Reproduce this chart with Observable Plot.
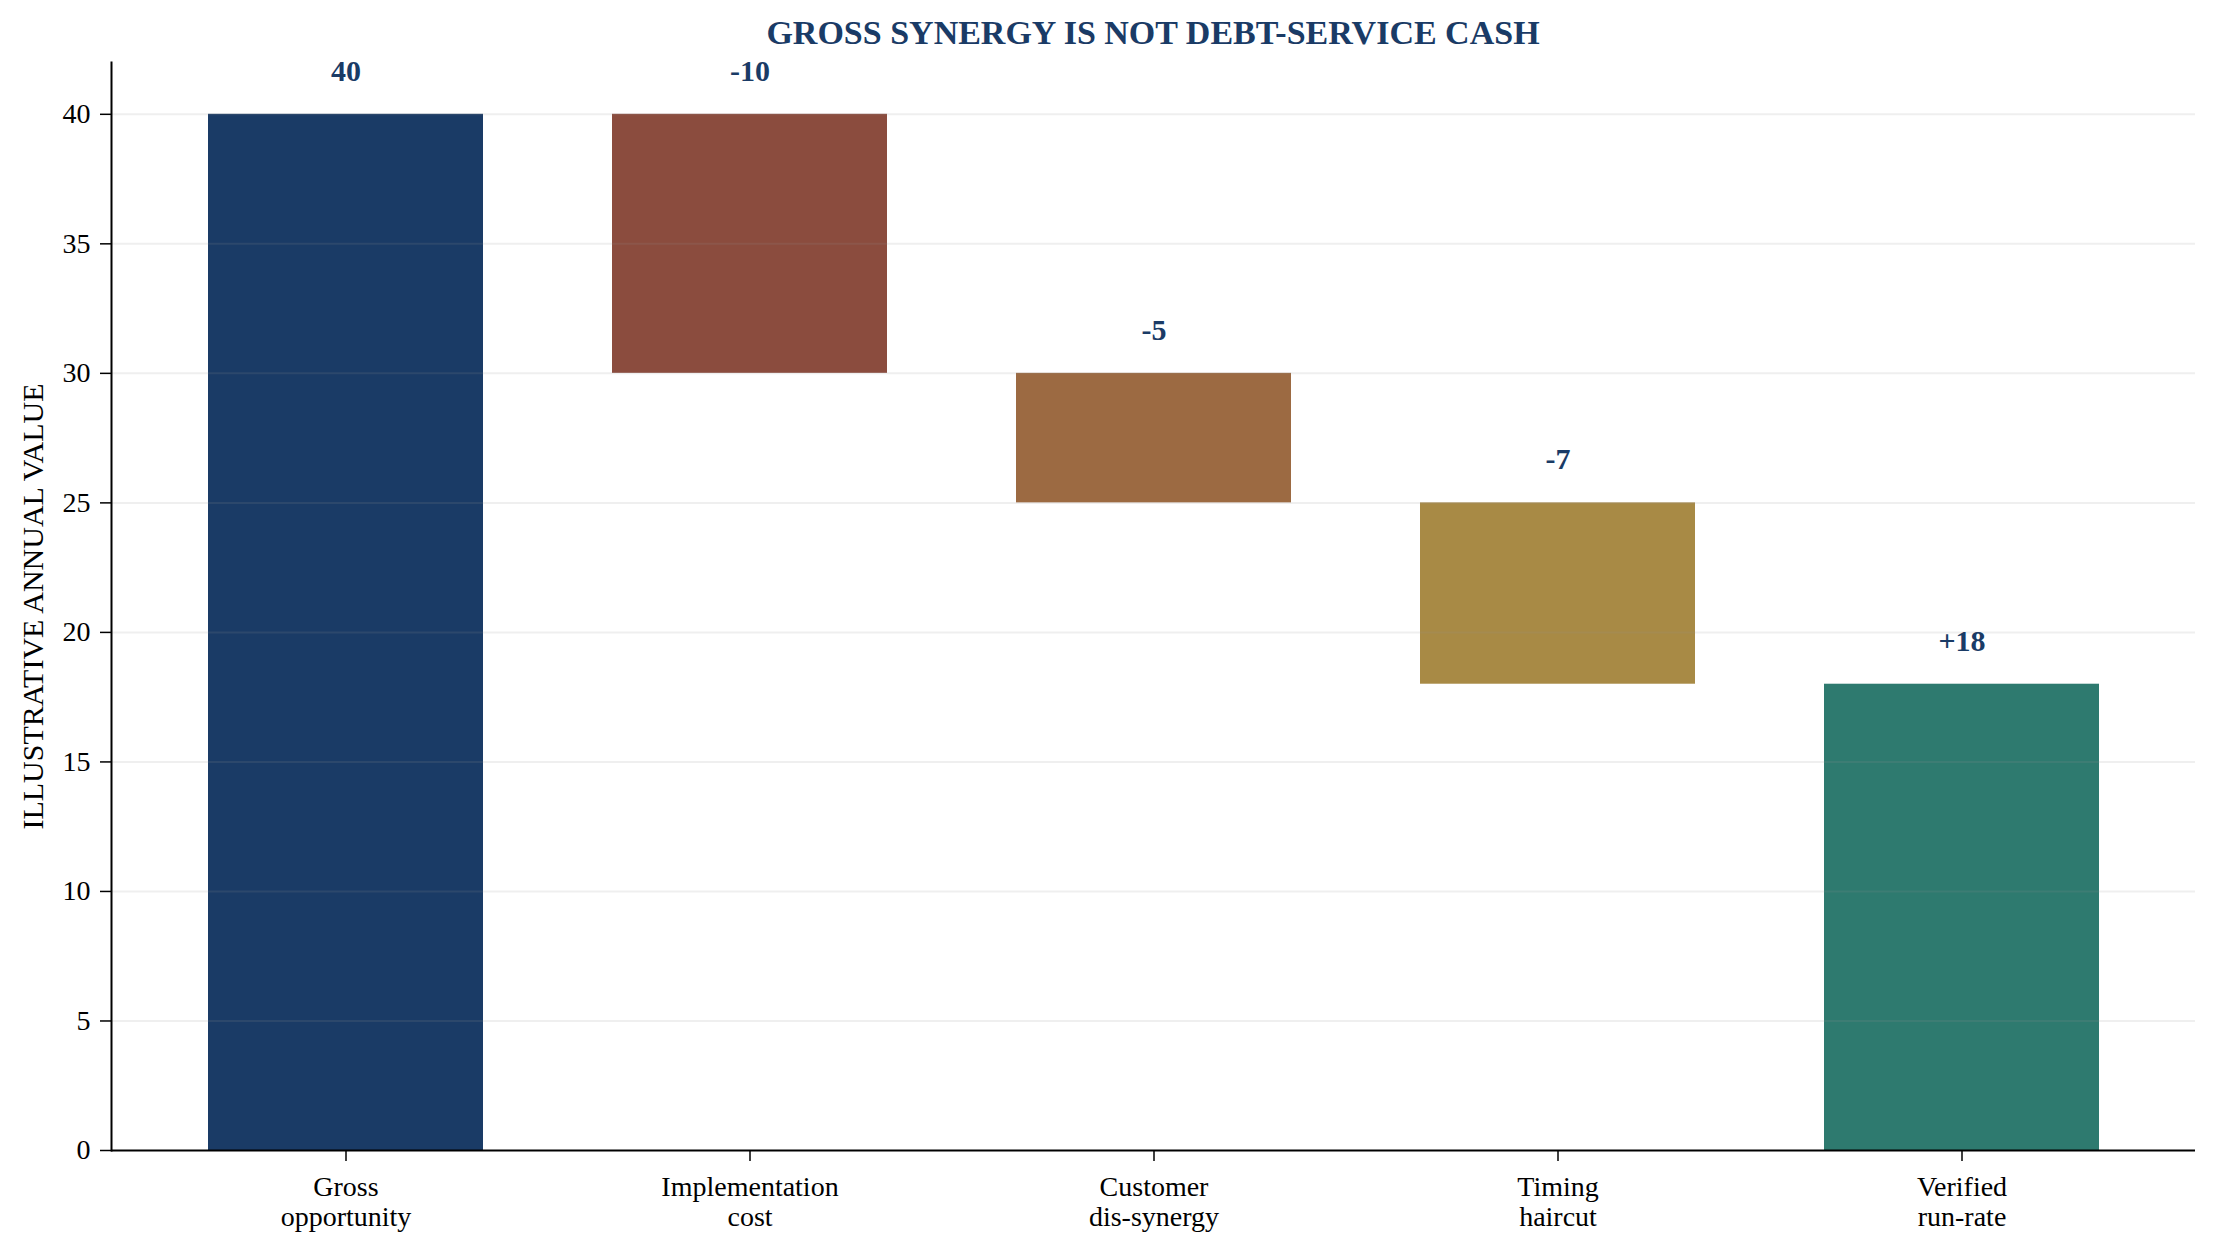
<!DOCTYPE html>
<html>
<head>
<meta charset="utf-8">
<script src="https://cdn.jsdelivr.net/npm/d3@7"></script>
<script src="https://cdn.jsdelivr.net/npm/@observablehq/plot@0.6"></script>
<style>
  html, body { margin: 0; padding: 0; background: #ffffff; }
  #title {
    width: 2218px; height: 56px; box-sizing: border-box;
    padding: 10px 23px 0 111px;
    line-height: 46px; text-align: center;
    font-family: "Liberation Serif", "Times New Roman", serif;
    font-weight: bold; font-size: 34px; color: #1a3b66;
  }
  #chart svg { display: block; overflow: visible; }
</style>
</head>
<body>
<div id="title">GROSS SYNERGY IS NOT DEBT-SERVICE CASH</div>
<div id="chart"></div>
<script>
const categories = ["Gross\nopportunity", "Implementation\ncost", "Customer\ndis-synergy", "Timing\nhaircut", "Verified\nrun-rate"];
const values = [40, -10, -5, -7, 18];
const kinds = ["total", "delta", "delta", "delta", "total"];
const valueLabels = ["40", "-10", "-5", "-7", "+18"];
const colors = ["#1a3b66", "#8b4c3e", "#9c6a42", "#a88a45", "#2e7a6f"];
const yTicks = [0, 5, 10, 15, 20, 25, 30, 35, 40];
const yDomain = [0, 42];
const yLabel = "ILLUSTRATIVE ANNUAL VALUE";

let running = 0;
const rows = categories.map((c, i) => {
  let start, end;
  if (kinds[i] === "total") { start = 0; end = values[i]; running = values[i]; }
  else { start = running; end = running + values[i]; running = end; }
  return { category: c, start, end, top: Math.max(start, end), label: valueLabels[i] };
});

const font = "'Liberation Serif', 'Times New Roman', serif";

const chart = Plot.plot({
  width: 2218,
  height: 1198,
  marginLeft: 111,
  marginRight: 23,
  marginTop: 6,
  marginBottom: 104,
  style: { fontFamily: font, fontSize: "28px", background: "#ffffff", color: "#000" },
  x: { domain: categories, paddingInner: 0.32, paddingOuter: 0.233, axis: null },
  y: { domain: yDomain, axis: null },
  color: { domain: categories, range: colors },
  marks: [
    Plot.barY(rows, { x: "category", y1: "start", y2: "end", fill: "category" }),
    Plot.ruleY(yTicks.filter(d => d > 0), { stroke: "#969696", strokeOpacity: 0.15, strokeWidth: 2 }),
    Plot.text(rows, { x: "category", y: "top", text: "label", dy: -43, fontSize: 30, fontWeight: "bold", fill: "#1a3b66", fontFamily: font }),
    Plot.axisY({ ticks: yTicks, tickSize: 11, tickPadding: 10, fontSize: 28, tickFormat: d => String(d), label: null, stroke: "#000", strokeWidth: 1.5 }),
    Plot.axisX({ tickSize: 11, tickPadding: 13, fontSize: 28, lineHeight: 1.07, label: null, stroke: "#000", strokeWidth: 1.5 }),
    Plot.text([yLabel], { frameAnchor: "left", textAnchor: "middle", lineAnchor: "middle", rotate: -90, dx: -78, fontSize: 30, fill: "#000", fontFamily: font }),
    Plot.frame({ anchor: "left", stroke: "#000", strokeWidth: 2 }),
    Plot.ruleY([0], { stroke: "#000", strokeWidth: 2 })
  ]
});
document.getElementById("chart").appendChild(chart);
</script>
</body>
</html>
